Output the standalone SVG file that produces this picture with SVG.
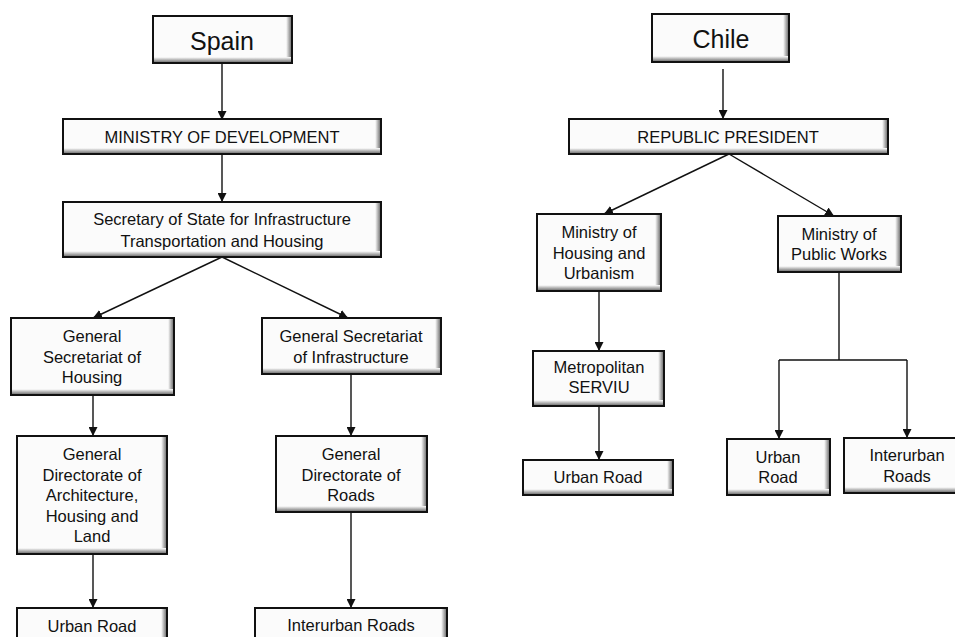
<svg xmlns="http://www.w3.org/2000/svg" width="955" height="637" viewBox="0 0 955 637">
<style>
.bx{fill:none;stroke:#111;stroke-width:2}
.bg{fill:#fbfbfb}
.sr{fill:url(#gR)}
.sb{fill:url(#gB)}
text{font-family:"Liberation Sans",Arial,sans-serif;font-size:16.5px;fill:#111;text-anchor:middle}
.big{font-size:25px}
.cn line,.cn path{stroke:#111;stroke-width:1.4;fill:none}
.ar{marker-end:url(#ah)}
</style>
<defs>
<linearGradient id="gR" x1="0" y1="0" x2="1" y2="0"><stop offset="0" stop-color="#ffffff"/><stop offset="1" stop-color="#7a7a7a"/></linearGradient>
<linearGradient id="gB" x1="0" y1="0" x2="0" y2="1"><stop offset="0" stop-color="#ffffff"/><stop offset="1" stop-color="#7a7a7a"/></linearGradient>
<marker id="ah" viewBox="0 0 10 10" refX="10" refY="5" markerWidth="9" markerHeight="9" markerUnits="userSpaceOnUse" orient="auto"><path d="M0,0 L10,5 L0,10 z" fill="#111"/></marker>
</defs>
<rect width="955" height="637" fill="#fff"/>

<g class="cn" id="connectors">
<line class="ar" x1="222" y1="63" x2="222" y2="120"/>
<line class="ar" x1="222" y1="154" x2="222" y2="202"/>
<line class="ar" x1="222" y1="257" x2="93" y2="318"/>
<line class="ar" x1="222" y1="257" x2="348" y2="318"/>
<line class="ar" x1="93" y1="395" x2="93" y2="436"/>
<line class="ar" x1="93" y1="554" x2="93" y2="608"/>
<line class="ar" x1="351" y1="374" x2="351" y2="436"/>
<line class="ar" x1="351" y1="512" x2="351" y2="608"/>
<line class="ar" x1="723" y1="69" x2="723" y2="119"/>
<line class="ar" x1="729" y1="154" x2="604" y2="214"/>
<line class="ar" x1="729" y1="154" x2="834" y2="216"/>
<line class="ar" x1="599" y1="291" x2="599" y2="351"/>
<line class="ar" x1="599" y1="406" x2="599" y2="460"/>
<path d="M839,272 V360 M779,360 H907"/>
<line class="ar" x1="779" y1="360" x2="779" y2="439"/>
<line class="ar" x1="907" y1="360" x2="907" y2="438"/>
</g>

<g id="spain">
<rect class="bg" x="153" y="16" width="139" height="47"/>
<rect class="sr" x="286" y="17" width="5" height="45"/>
<rect class="sb" x="154" y="57" width="137" height="5"/>
<rect class="bx" x="153" y="16" width="139" height="47"/>
<text class="big" x="222" y="50">Spain</text>
</g>

<g id="ministry-development">
<rect class="bg" x="63" y="119" width="318" height="35"/>
<rect class="sr" x="375" y="120" width="5" height="33"/>
<rect class="sb" x="64" y="148" width="316" height="5"/>
<rect class="bx" x="63" y="119" width="318" height="35"/>
<text x="222" y="143">MINISTRY OF DEVELOPMENT</text>
</g>

<g id="secretary-state">
<rect class="bg" x="63" y="202" width="318" height="55"/>
<rect class="sr" x="375" y="203" width="5" height="53"/>
<rect class="sb" x="64" y="251" width="316" height="5"/>
<rect class="bx" x="63" y="202" width="318" height="55"/>
<text x="222" y="225">Secretary of State for Infrastructure</text>
<text x="222" y="247">Transportation and Housing</text>
</g>

<g id="gs-housing">
<rect class="bg" x="11" y="318" width="163" height="77"/>
<rect class="sr" x="168" y="319" width="5" height="75"/>
<rect class="sb" x="12" y="389" width="161" height="5"/>
<rect class="bx" x="11" y="318" width="163" height="77"/>
<text x="92" y="342">General</text>
<text x="92" y="363">Secretariat of</text>
<text x="92" y="383">Housing</text>
</g>

<g id="gs-infrastructure">
<rect class="bg" x="262" y="318" width="179" height="56"/>
<rect class="sr" x="435" y="319" width="5" height="54"/>
<rect class="sb" x="263" y="368" width="177" height="5"/>
<rect class="bx" x="262" y="318" width="179" height="56"/>
<text x="351" y="342">General Secretariat</text>
<text x="351" y="363">of Infrastructure</text>
</g>

<g id="gd-architecture">
<rect class="bg" x="17" y="436" width="150" height="118"/>
<rect class="sr" x="161" y="437" width="5" height="116"/>
<rect class="sb" x="18" y="548" width="148" height="5"/>
<rect class="bx" x="17" y="436" width="150" height="118"/>
<text x="92" y="460">General</text>
<text x="92" y="481">Directorate of</text>
<text x="92" y="501">Architecture,</text>
<text x="92" y="522">Housing and</text>
<text x="92" y="542">Land</text>
</g>

<g id="gd-roads">
<rect class="bg" x="276" y="436" width="151" height="76"/>
<rect class="sr" x="421" y="437" width="5" height="74"/>
<rect class="sb" x="277" y="506" width="149" height="5"/>
<rect class="bx" x="276" y="436" width="151" height="76"/>
<text x="351" y="460">General</text>
<text x="351" y="481">Directorate of</text>
<text x="351" y="501">Roads</text>
</g>

<g id="es-urban-road">
<rect class="bg" x="17" y="608" width="150" height="40"/>
<rect class="sr" x="161" y="609" width="5" height="38"/>
<rect class="bx" x="17" y="608" width="150" height="40"/>
<text x="92" y="632">Urban Road</text>
</g>

<g id="es-interurban-roads">
<rect class="bg" x="255" y="608" width="192" height="40"/>
<rect class="sr" x="441" y="609" width="5" height="38"/>
<rect class="bx" x="255" y="608" width="192" height="40"/>
<text x="351" y="631">Interurban Roads</text>
</g>

<g id="chile">
<rect class="bg" x="652" y="14" width="137" height="48"/>
<rect class="sr" x="783" y="15" width="5" height="46"/>
<rect class="sb" x="653" y="56" width="135" height="5"/>
<rect class="bx" x="652" y="14" width="137" height="48"/>
<text class="big" x="721" y="48">Chile</text>
</g>

<g id="republic-president">
<rect class="bg" x="569" y="119" width="319" height="35"/>
<rect class="sr" x="882" y="120" width="5" height="33"/>
<rect class="sb" x="570" y="148" width="317" height="5"/>
<rect class="bx" x="569" y="119" width="319" height="35"/>
<text x="728" y="143">REPUBLIC PRESIDENT</text>
</g>

<g id="ministry-housing">
<rect class="bg" x="537" y="214" width="124" height="77"/>
<rect class="sr" x="655" y="215" width="5" height="75"/>
<rect class="sb" x="538" y="285" width="122" height="5"/>
<rect class="bx" x="537" y="214" width="124" height="77"/>
<text x="599" y="238">Ministry of</text>
<text x="599" y="259">Housing and</text>
<text x="599" y="279">Urbanism</text>
</g>

<g id="ministry-public-works">
<rect class="bg" x="778" y="216" width="123" height="56"/>
<rect class="sr" x="895" y="217" width="5" height="54"/>
<rect class="sb" x="779" y="266" width="121" height="5"/>
<rect class="bx" x="778" y="216" width="123" height="56"/>
<text x="839" y="240">Ministry of</text>
<text x="839" y="260">Public Works</text>
</g>

<g id="metropolitan-serviu">
<rect class="bg" x="533" y="351" width="131" height="55"/>
<rect class="sr" x="658" y="352" width="5" height="53"/>
<rect class="sb" x="534" y="400" width="129" height="5"/>
<rect class="bx" x="533" y="351" width="131" height="55"/>
<text x="599" y="373">Metropolitan</text>
<text x="599" y="393">SERVIU</text>
</g>

<g id="cl-urban-road-left">
<rect class="bg" x="523" y="460" width="150" height="35"/>
<rect class="sr" x="667" y="461" width="5" height="33"/>
<rect class="sb" x="524" y="489" width="148" height="5"/>
<rect class="bx" x="523" y="460" width="150" height="35"/>
<text x="598" y="483">Urban Road</text>
</g>

<g id="cl-urban-road-right">
<rect class="bg" x="727" y="439" width="103" height="56"/>
<rect class="sr" x="824" y="440" width="5" height="54"/>
<rect class="sb" x="728" y="489" width="101" height="5"/>
<rect class="bx" x="727" y="439" width="103" height="56"/>
<text x="778" y="463">Urban</text>
<text x="778" y="483">Road</text>
</g>

<g id="cl-interurban-roads">
<rect class="bg" x="844" y="438" width="115" height="55"/>
<rect class="sb" x="845" y="487" width="113" height="5"/>
<rect class="bx" x="844" y="438" width="115" height="55"/>
<text x="907" y="461">Interurban</text>
<text x="907" y="482">Roads</text>
</g>
</svg>
